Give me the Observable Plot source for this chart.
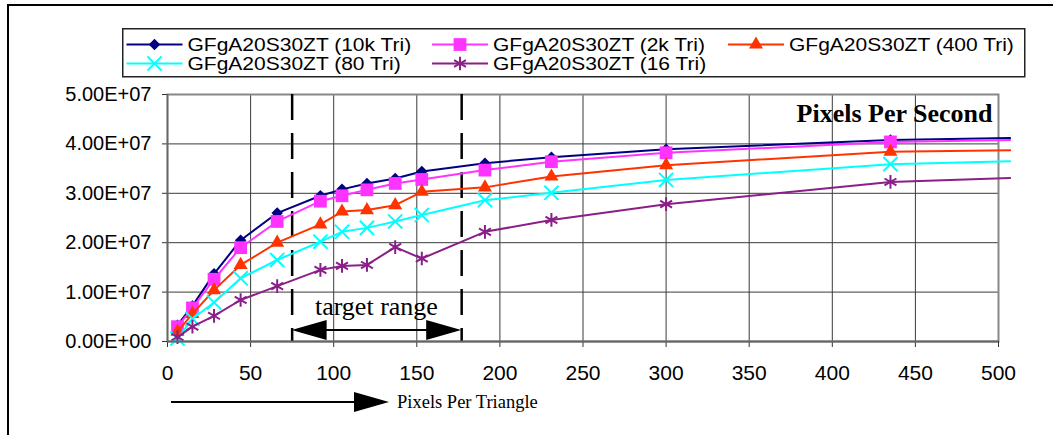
<!DOCTYPE html>
<html>
<head>
<meta charset="utf-8">
<script src="https://cdn.jsdelivr.net/npm/d3@7"></script>
<script src="https://cdn.jsdelivr.net/npm/@observablehq/plot@0.6"></script>
<style>
  body { margin: 0; background: #fff; }
  #wrap { position: relative; width: 1053px; height: 435px; overflow: hidden; background: #fff; }
  #chart { position: absolute; left: 0; top: 0; }
  #frameTop { position: absolute; left: 7px; top: 4px; width: 1060px; height: 2px; background: #000; }
  #frameLeft { position: absolute; left: 7px; top: 4px; width: 2px; height: 440px; background: #000; }
  #legend { position: absolute; left: 122px; top: 28px; }
</style>
</head>
<body>
<div id="wrap">
  <div id="chart"></div>
  <div id="frameTop"></div>
  <div id="frameLeft"></div>
  <div id="legend"></div>
</div>
<script>
// ---- data ----
const pixelsPerTriangle = [6, 15, 28, 44, 66, 92, 105, 120, 137, 153, 191, 231, 300, 435, 507];
const tri10k = [3.3e6, 7.2e6, 13.7e6, 20.5e6, 26.0e6, 29.5e6, 30.8e6, 32.0e6, 33.0e6, 34.4e6, 36.1e6, 37.3e6, 38.9e6, 40.8e6, 41.2e6];
const tri2k  = [3.0e6, 6.8e6, 12.6e6, 19.0e6, 24.3e6, 28.4e6, 29.5e6, 30.7e6, 32.0e6, 32.8e6, 34.7e6, 36.4e6, 38.2e6, 40.4e6, 40.8e6];
const tri400 = [2.0e6, 5.6e6, 10.4e6, 15.5e6, 20.0e6, 23.7e6, 26.3e6, 26.6e6, 27.6e6, 30.3e6, 31.2e6, 33.4e6, 35.7e6, 38.4e6, 38.7e6];
const tri80  = [0.6e6, 4.6e6, 7.9e6, 12.8e6, 16.5e6, 20.2e6, 22.2e6, 23.0e6, 24.3e6, 25.6e6, 28.6e6, 30.1e6, 32.7e6, 35.9e6, 36.5e6];
const tri16  = [0.9e6, 3.0e6, 5.2e6, 8.4e6, 11.2e6, 14.5e6, 15.3e6, 15.5e6, 19.1e6, 16.8e6, 22.2e6, 24.6e6, 27.8e6, 32.3e6, 33.1e6];
const seriesNames = ["GFgA20S30ZT (10k Tri)", "GFgA20S30ZT (2k Tri)", "GFgA20S30ZT (400 Tri)", "GFgA20S30ZT (80 Tri)", "GFgA20S30ZT (16 Tri)"];
const xTicks = [0, 50, 100, 150, 200, 250, 300, 350, 400, 450, 500];
const yTicks = [0, 1e7, 2e7, 3e7, 4e7, 5e7];
const targetRange = [75, 177];
const chartTitle = "Pixels Per Second";
const xLabel = "Pixels Per Triangle";
const targetLabel = "target range";

// ---- styles ----
const diamondSym = { draw(ctx, size) { const r = Math.sqrt(size / 2); ctx.moveTo(0, -r); ctx.lineTo(r, 0); ctx.lineTo(0, r); ctx.lineTo(-r, 0); ctx.closePath(); } };
const styles = [
  { color: "#000080", symbol: diamondSym, r: 4.6, filled: true },
  { color: "#ff33ff", symbol: "square", r: 7.2, filled: true },
  { color: "#ff3300", symbol: "triangle", r: 5.2, filled: true },
  { color: "#00ffff", symbol: "times", r: 6.5, filled: false },
  { color: "#8a1f88", symbol: "asterisk", r: 6.5, filled: false }
];
const seriesValues = [tri10k, tri2k, tri400, tri80, tri16];

const fmtE = v => {
  const [m, e] = v.toExponential(2).split("e");
  const sign = e[0] === "-" ? "-" : "+";
  return m + "E" + sign + e.replace(/[+-]/, "").padStart(2, "0");
};

const seriesMarks = seriesValues.flatMap((vals, si) => {
  const rows = pixelsPerTriangle.map((x, i) => ({ x, y: vals[i] }));
  const st = styles[si];
  const dotOpts = st.filled
    ? { x: "x", y: "y", symbol: st.symbol, r: st.r, fill: st.color, stroke: "none" }
    : { x: "x", y: "y", symbol: st.symbol, r: st.r, fill: "none", stroke: st.color, strokeWidth: 2 };
  return [
    Plot.line(rows, { x: "x", y: "y", stroke: st.color, strokeWidth: 2 }),
    Plot.dot(rows.filter(d => d.x <= 500), dotOpts)
  ];
});

const plot = Plot.plot({
  width: 1053,
  height: 435,
  marginLeft: 167,
  marginRight: 55,
  marginTop: 94,
  marginBottom: 94,
  style: { fontFamily: "'Liberation Sans', Arial, sans-serif", color: "#000", background: "transparent", overflow: "visible" },
  x: { domain: [0, 500] },
  y: { domain: [0, 5e7] },
  marks: [
    Plot.gridY(yTicks, { stroke: "#3a3a3a", strokeOpacity: 1, strokeWidth: 1 }),
    Plot.gridX(xTicks, { stroke: "#3a3a3a", strokeOpacity: 1, strokeWidth: 1 }),
    Plot.frame({ stroke: "#888", strokeWidth: 2 }),
    Plot.ruleX(targetRange, { stroke: "#000", strokeWidth: 2.5, strokeDasharray: "26,13" }),
    Plot.axisY(yTicks, { tickFormat: fmtE, tickSize: 5, tickPadding: 11, fontSize: 20, label: null, stroke: "#333" }),
    Plot.axisX(xTicks, { tickFormat: d => String(d), tickSize: 6, tickPadding: 18, fontSize: 21, label: null, stroke: "#333" }),
    ...seriesMarks,
    Plot.ruleY([0], { stroke: "#666", strokeWidth: 2 }),
    Plot.ruleX([0], { stroke: "#666", strokeWidth: 1.5 }),
    Plot.text([chartTitle], { frameAnchor: "top-right", textAnchor: "end", lineAnchor: "middle", dx: -6, dy: 19, fontSize: 26, fontWeight: "bold", fontFamily: "'Liberation Serif', 'Times New Roman', serif", fill: "#000" })
  ]
});
document.getElementById("chart").appendChild(plot);

// ---- annotations using the plot's scales ----
const xs = plot.scale("x"), ys = plot.scale("y");
const svg = d3.select(plot);
const ann = svg.append("g");
const xa = xs.apply(targetRange[0]), xb = xs.apply(targetRange[1]);
const y0 = ys.apply(0);
const ay = y0 - 11;
ann.append("line").attr("x1", xa + 30).attr("x2", xb - 30).attr("y1", ay).attr("y2", ay).attr("stroke", "#000").attr("stroke-width", 2);
ann.append("path").attr("d", `M${xa},${ay} L${xa + 35},${ay - 10} L${xa + 35},${ay + 10} Z`).attr("fill", "#000");
ann.append("path").attr("d", `M${xb},${ay} L${xb - 35},${ay - 10} L${xb - 35},${ay + 10} Z`).attr("fill", "#000");
ann.append("text").attr("x", (xa + xb) / 2).attr("y", y0 - 26).attr("text-anchor", "middle")
  .attr("font-family", "'Liberation Serif', 'Times New Roman', serif").attr("font-size", 26).text(targetLabel);

// x-axis label with arrow
const by = 402;
ann.append("line").attr("x1", 171).attr("x2", 356).attr("y1", by).attr("y2", by).attr("stroke", "#000").attr("stroke-width", 2);
ann.append("path").attr("d", `M389,${by} L354,${by - 10} L354,${by + 10} Z`).attr("fill", "#000");
ann.append("text").attr("x", 397).attr("y", by + 6).attr("text-anchor", "start")
  .attr("font-family", "'Liberation Serif', 'Times New Roman', serif")
  .attr("font-size", 18.5).text(xLabel);

// ---- legend ----
const lg = d3.select("#legend").append("svg").attr("width", 905).attr("height", 51);
lg.append("rect").attr("x", 0.75).attr("y", 0.75).attr("width", 902).attr("height", 48).attr("fill", "#fff").attr("stroke", "#222").attr("stroke-width", 1.5);
const colX = [32.5, 338, 634];
const rowY = [16.5, 35.5];
const d3sym = { square: d3.symbolSquare, triangle: d3.symbolTriangle, times: d3.symbolTimes, asterisk: d3.symbolAsterisk };
seriesNames.forEach((name, i) => {
  const cx = colX[i % 3], cy = rowY[Math.floor(i / 3)];
  const st = styles[i];
  const g = lg.append("g");
  g.append("line").attr("x1", cx - 28).attr("x2", cx + 28).attr("y1", cy).attr("y2", cy).attr("stroke", st.color).attr("stroke-width", 2);
  const symType = typeof st.symbol === "string" ? d3sym[st.symbol] : st.symbol;
  const p = d3.symbol(symType, st.r * st.r * Math.PI)();
  const path = g.append("path").attr("d", p).attr("transform", `translate(${cx},${cy})`);
  if (st.filled) path.attr("fill", st.color); else path.attr("fill", "none").attr("stroke", st.color).attr("stroke-width", 2);
  const t = g.append("text").attr("x", cx + 33).attr("y", cy).attr("dy", "0.36em").attr("text-anchor", "start")
    .attr("font-family", "'Liberation Sans', Arial, sans-serif").attr("font-size", 17.5).text(name);
  const w = t.node().getComputedTextLength();
  t.attr("textLength", w * 1.2).attr("lengthAdjust", "spacingAndGlyphs");
});
</script>
</body>
</html>
